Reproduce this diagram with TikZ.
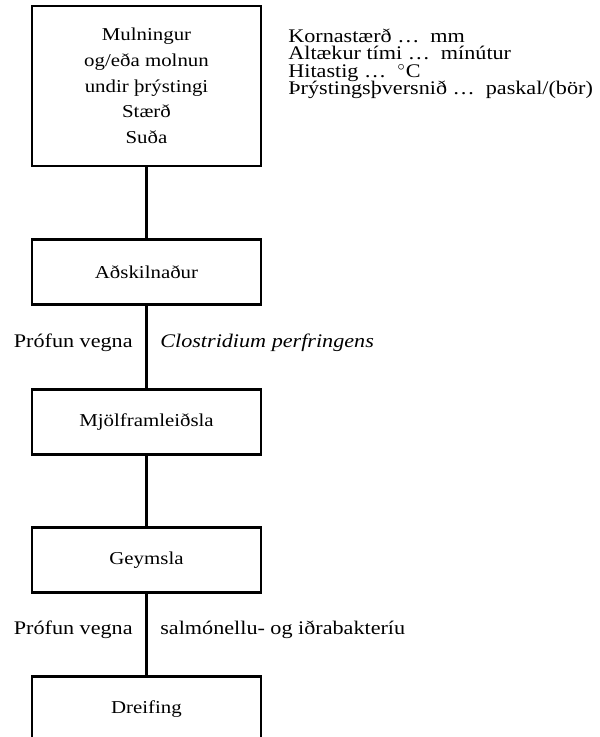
\documentclass[tikz,border=0pt]{standalone}
\usepackage{fontspec}
\setmainfont{Liberation Serif}[FakeStretch=1.15]
\newcommand\sidefont{\fontsize{10.4}{9.45}\selectfont\lineskiplimit-20pt\relax}
\begin{document}
\begin{tikzpicture}[x=0.54pt, y=-0.54pt,
    stage/.style={draw, line width=1.1pt, minimum width=123.7pt, minimum height=35.1pt,
      inner sep=0pt, align=center, font=\fontsize{9.8}{13.9}\selectfont},
    side/.style={inner sep=0pt, font=\sidefont},
    link/.style={line width=1.1pt}]
  \clip (0, 0) rectangle (599, 737);

  \node[stage, minimum height=86.4pt] (mulning) at (146.5, 86)
    {Mulningur\\og/eða molnun\\undir þrýstingi\\Stærð\\Suða};
  \node[stage] (adskiln) at (146.5, 272) {Aðskilnaður};
  \node[stage] (mjol) at (146.5, 422) {Mjölframleiðsla};
  \node[stage] (geyms) at (146.5, 560) {Geymsla};
  \node[stage] (dreif) at (146.5, 709) {Dreifing};

  \node[side, anchor=base west, align=left] (params) at (288, 94.5)
    {Kornastærð …\ \ mm\\Altækur tími …\ \ mínútur\\Hitastig …\ \ $^{\circ}$C\\Þrýstingsþversnið …\ \ paskal/(bör)};

  \node[side, anchor=base east] (prof1) at (133, 347) {Prófun vegna};
  \node[side, anchor=base west] (clos) at (160, 347) {\itshape Clostridium perfringens};
  \node[side, anchor=base east] (prof2) at (133, 634) {Prófun vegna};
  \node[side, anchor=base west] (salm) at (160, 634) {salmónellu- og iðrabakteríu};

  \foreach \a/\b in {mulning/adskiln, adskiln/mjol, mjol/geyms, geyms/dreif}
    \draw[link] (\a) -- (\b);
\end{tikzpicture}
\end{document}
